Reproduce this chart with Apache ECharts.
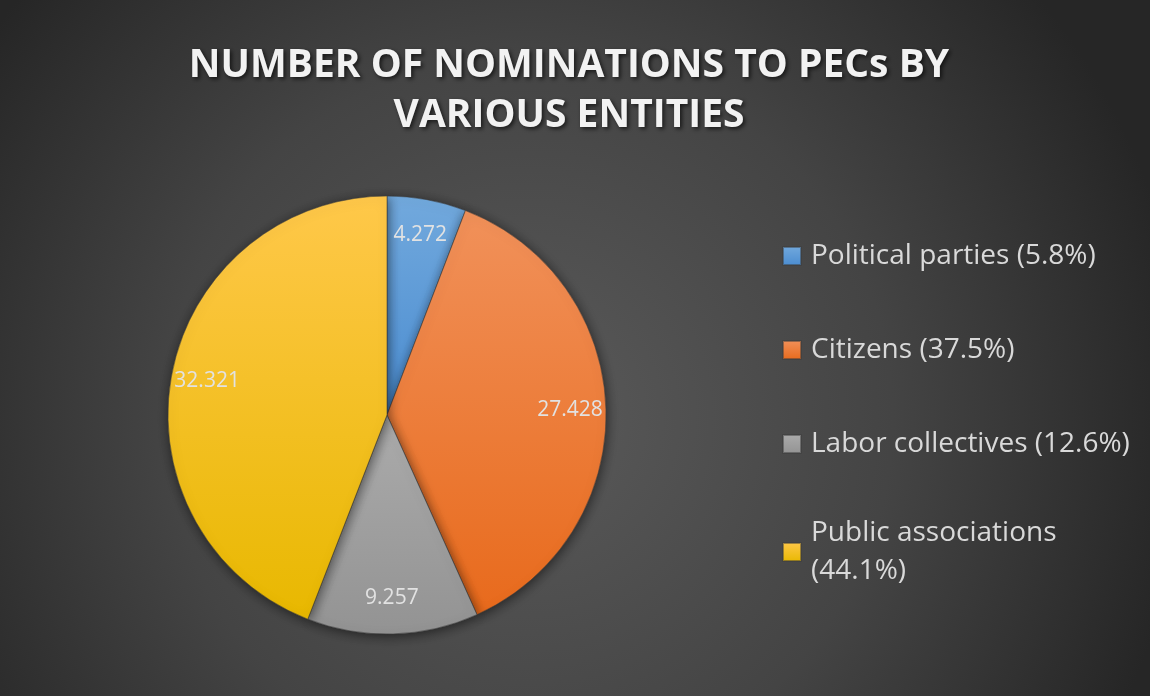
<!DOCTYPE html>
<html>
<head>
<meta charset="utf-8">
<script src="https://cdn.jsdelivr.net/npm/echarts@6/dist/echarts.min.js"></script>
<style>
  html, body { margin: 0; padding: 0; }
  #chart { width: 1150px; height: 696px; }
</style>
</head>
<body>
<div id="chart"></div>
<script>
// data
var categories = ['Political parties', 'Citizens', 'Labor collectives', 'Public associations'];
var values = [4.272, 27.428, 9.257, 32.321];
var legendPct = ['5.8', '37.5', '12.6', '44.1'];
var topColors = ['#72a9dd', '#f1915a', '#ababab', '#ffc84a'];
var bottomColors = ['#4a8cd0', '#e86a1c', '#939393', '#e8b800'];

function grad(i) {
  return new echarts.graphic.LinearGradient(0, 0, 0, 1, [
    { offset: 0, color: topColors[i] },
    { offset: 1, color: bottomColors[i] }
  ]);
}

var pieData = categories.map(function (name, i) {
  return { name: name, value: values[i], itemStyle: { color: grad(i) } };
});

var labelData = categories.map(function (name, i) {
  return { name: name, value: values[i] };
});

var legendData = categories.map(function (name, i) {
  var item = { name: name, itemStyle: { color: grad(i) } };
  if (i === categories.length - 1) {
    // wrapped entry: keep first line beside the marker
    item.textStyle = { padding: [0, 0, -38, 5] };
  }
  return item;
});

var chart = echarts.init(document.getElementById('chart'));
var option = {
  backgroundColor: new echarts.graphic.RadialGradient(0.46, 0.6, 0.95, [
    { offset: 0, color: '#5a5a5a' },
    { offset: 0.55, color: '#444444' },
    { offset: 1, color: '#262626' }
  ]),
  title: {
    text: 'NUMBER OF NOMINATIONS TO PECs BY\nVARIOUS ENTITIES',
    left: 569,
    top: 41,
    padding: 0,
    textAlign: 'center',
    textStyle: {
      fontFamily: 'Open Sans',
      fontWeight: 'bold',
      fontSize: 39,
      lineHeight: 50,
      color: '#f2f2f2',
      textShadowColor: 'rgba(0,0,0,0.65)',
      textShadowBlur: 4,
      textShadowOffsetX: 2,
      textShadowOffsetY: 2
    }
  },
  legend: {
    orient: 'vertical',
    left: 782,
    top: 237,
    padding: 0,
    itemWidth: 18,
    itemHeight: 18,
    itemGap: 56,
    icon: 'rect',
    selectedMode: false,
    data: legendData,
    formatter: function (name) {
      var i = categories.indexOf(name);
      if (i === categories.length - 1) {
        return name + '\n(' + legendPct[i] + '%)';
      }
      return name + ' (' + legendPct[i] + '%)';
    },
    textStyle: {
      fontFamily: 'Open Sans',
      fontSize: 28,
      lineHeight: 38,
      color: '#d9d9d9',
      padding: [0, 0, 0, 5]
    }
  },
  series: [
    {
      name: 'Nominations',
      type: 'pie',
      center: [387, 415],
      radius: 219,
      startAngle: 90,
      clockwise: true,
      silent: true,
      label: { show: false },
      labelLine: { show: false },
      itemStyle: {
        borderColor: 'rgba(60,60,60,0.5)',
        borderWidth: 0.6,
        shadowColor: 'rgba(0,0,0,0.55)',
        shadowBlur: 12,
        shadowOffsetX: 1,
        shadowOffsetY: 2
      },
      data: pieData
    },
    {
      name: 'Labels',
      type: 'pie',
      center: [387, 415],
      radius: [162, 198],
      startAngle: 90,
      clockwise: true,
      silent: true,
      itemStyle: { color: 'rgba(0,0,0,0)' },
      label: {
        show: true,
        position: 'inside',
        formatter: function (p) { return p.value.toFixed(3); },
        fontFamily: 'Open Sans',
        fontSize: 21,
        color: '#e2e2e2'
      },
      labelLine: { show: false },
      data: labelData
    }
  ]
};
chart.setOption(option);
</script>
</body>
</html>
